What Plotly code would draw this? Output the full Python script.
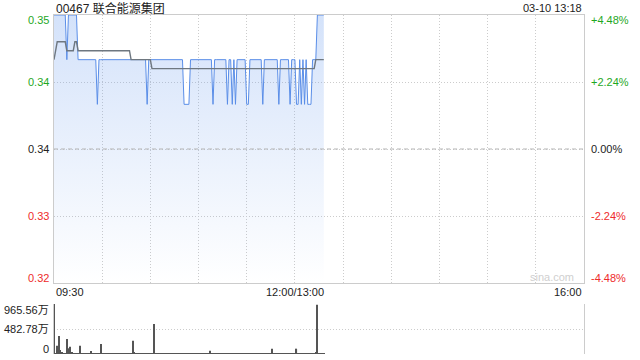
import plotly.graph_objects as go

# ---------------- data ----------------
title_text = "00467 联合能源集团"
stamp_text = "03-10 13:18"

# minute index from 09:30 (150 = 12:00/13:00, 330 = 16:00)
price = (
    [0.35] * 8 + [0.345] + [0.35] * 6 + [0.345] * 12 + [0.34] + [0.345] * 30 + [0.34]
    + [0.345] * 22 + [0.34] * 4 + [0.345] * 14 + [0.34] + [0.345] * 8 + [0.34]
    + [0.345] * 2 + [0.34] + [0.345] + [0.34] + [0.345] * 6 + [0.34] * 2 + [0.345] * 8
    + [0.34] + [0.345] * 9 + [0.34] + [0.345] * 6 + [0.34] + [0.345] * 3 + [0.34] * 2
    + [0.345] + [0.34] + [0.345] + [0.34] + [0.345] + [0.34] * 3 + [0.345] * 3 + [0.35] * 5
)
avg_price = (
    [0.345] + [0.346] + [0.347] * 6 + [0.346] * 5 + [0.347] * 2 + [0.346] * 33
    + [0.345] * 13 + [0.344] * 102 + [0.345] * 6
)
volume = [  # 万股
    965.56, 8, 160, 347, 77, 40, 12, 6, 290, 110,
    141, 30, 8, 5, 10, 6, 160, 4, 7, 15,
    5, 9, 4, 58, 6, 3, 8, 12, 5, 193,
    6, 4, 7, 3, 5, 8, 4, 6, 3, 5,
    4, 7, 3, 6, 5, 4, 8, 3, 12, 257,
    20, 6, 4, 9, 3, 5, 7, 4, 10, 6,
    5, 8, 579, 6, 4, 7, 3, 5, 4, 6,
    3, 5, 7, 4, 6, 3, 5, 4, 8, 3,
    6, 10, 5, 7, 4, 6, 3, 5, 8, 4,
    6, 3, 5, 4, 7, 3, 8, 64, 6, 9,
    4, 5, 3, 7, 4, 6, 3, 5, 12, 4,
    8, 3, 6, 10, 4, 5, 3, 7, 4, 6,
    9, 4, 5, 3, 6, 4, 7, 3, 5, 4,
    8, 3, 5, 6, 4, 7, 103, 5, 3, 6,
    9, 4, 5, 3, 7, 4, 6, 10, 3, 5,
    4, 103, 8, 5, 7, 3, 9, 4, 6, 8,
    5, 7, 4, 32, 950, 15, 6, 4, 8,
]
minutes = list(range(len(price)))

prev_close = 0.335
price_ticks = [0.35, 0.3425, 0.335, 0.3275, 0.32]
price_labels = ["0.35", "0.34", "0.34", "0.33", "0.32"]
pct_labels = ["+4.48%", "+2.24%", "0.00%", "-2.24%", "-4.48%"]
vol_ticks = [965.56, 482.78, 0]
vol_labels = ["965.56万", "482.78万", "0"]
time_pos = [0, 150, 330]
time_labels = ["09:30", "12:00/13:00", "16:00"]

# ---------------- style ----------------
GREEN = "#1fa81f"
RED = "#ee2b2b"
BLACK = "#222222"
GRID = "#cccccc"
DOT = "1px,2px"
FONT = "Liberation Sans, Arial, Noto Sans CJK SC, sans-serif"

fig = go.Figure()

fig.add_trace(go.Scatter(
    x=minutes, y=price, mode="lines",
    line=dict(color="#5a8ee8", width=1),
    fill="tozeroy",
    fillgradient=dict(type="vertical", start=0.32, stop=0.35,
                      colorscale=[[0, "rgba(120,165,240,0)"], [1, "rgba(120,165,240,0.32)"]]),
    hoverinfo="skip", xaxis="x", yaxis="y",
))
fig.add_trace(go.Scatter(
    x=minutes, y=avg_price, mode="lines",
    line=dict(color="#6e7780", width=1.4),
    hoverinfo="skip", xaxis="x", yaxis="y",
))
fig.add_trace(go.Bar(
    x=minutes, y=volume, width=0.7,
    marker=dict(color="#555555", line=dict(width=0)),
    hoverinfo="skip", xaxis="x2", yaxis="y2",
))

xdom = [54 / 640, 584 / 640]
fig.update_layout(
    width=640, height=360,
    margin=dict(l=0, r=0, t=0, b=0),
    paper_bgcolor="white", plot_bgcolor="white",
    showlegend=False,
    font=dict(family=FONT, size=11, color=BLACK),
    xaxis=dict(domain=xdom, range=[0, 330], tick0=0, dtick=30,
               showgrid=True, gridcolor=GRID, griddash=DOT, gridwidth=1,
               showticklabels=False, ticks="", zeroline=False,
               showline=True, linecolor=GRID, linewidth=1, mirror=True, anchor="y"),
    yaxis=dict(domain=[1 - 283 / 360, 1 - 15 / 360], range=[0.32, 0.35],
               tickvals=price_ticks, showticklabels=False, ticks="",
               showgrid=True, gridcolor=GRID, griddash=DOT, gridwidth=1,
               zeroline=False, showline=True, linecolor=GRID, linewidth=1, mirror=True,
               anchor="x"),
    xaxis2=dict(domain=xdom, range=[0, 330], showgrid=False, showticklabels=False,
                ticks="", zeroline=False, showline=False, anchor="y2"),
    yaxis2=dict(domain=[1 - 354 / 360, 1 - 304 / 360], range=[0, 965.56],
                tickvals=vol_ticks, showticklabels=False, ticks="",
                showgrid=True, gridcolor=GRID, griddash=DOT, gridwidth=1,
                zeroline=False, showline=True, linecolor=GRID, linewidth=1, mirror=True,
                anchor="x2"),
)

# center (previous close) dashed line
fig.add_shape(type="line", xref="x", yref="y", x0=0, x1=330, y0=prev_close, y1=prev_close,
              line=dict(color="#b5b5b5", width=1, dash="4px,3px"))

anns = []
colors = [GREEN, GREEN, BLACK, RED, RED]
shifts = [-5, 0, 0, 0, 5]
for v, lab, pct, c, s in zip(price_ticks, price_labels, pct_labels, colors, shifts):
    anns.append(dict(xref="paper", yref="y", x=51 / 640, y=v, text=lab, showarrow=False,
                     xanchor="right", yanchor="middle", yshift=s, font=dict(color=c, size=11)))
    anns.append(dict(xref="paper", yref="y", x=589 / 640, y=v, text=pct, showarrow=False,
                     xanchor="left", yanchor="middle", yshift=s, font=dict(color=c, size=11)))
vshifts = [-6, 0, 5]
for v, lab, s in zip(vol_ticks, vol_labels, vshifts):
    anns.append(dict(xref="paper", yref="y2", x=51 / 640, y=v, text=lab, showarrow=False,
                     xanchor="right", yanchor="middle", yshift=s, font=dict(color=BLACK, size=11)))
anchors = ["left", "center", "right"]
for p, lab, a in zip(time_pos, time_labels, anchors):
    anns.append(dict(xref="x", yref="paper", x=p, y=1 - 292 / 360, text=lab, showarrow=False,
                     xanchor=a, yanchor="middle", font=dict(color=BLACK, size=11)))
anns.append(dict(xref="paper", yref="paper", x=54 / 640, y=1 - 8 / 360, text=title_text,
                 showarrow=False, xanchor="left", yanchor="middle",
                 font=dict(color=BLACK, size=12)))
anns.append(dict(xref="paper", yref="paper", x=584 / 640, y=1 - 8 / 360, text=stamp_text,
                 showarrow=False, xanchor="right", yanchor="middle",
                 font=dict(color=BLACK, size=11)))
anns.append(dict(xref="paper", yref="paper", x=576 / 640, y=1 - 277 / 360, text="sina.com",
                 showarrow=False, xanchor="right", yanchor="middle",
                 font=dict(color="#cfcfcf", size=11)))
fig.update_layout(annotations=anns)

fig.write_html("out.html")
